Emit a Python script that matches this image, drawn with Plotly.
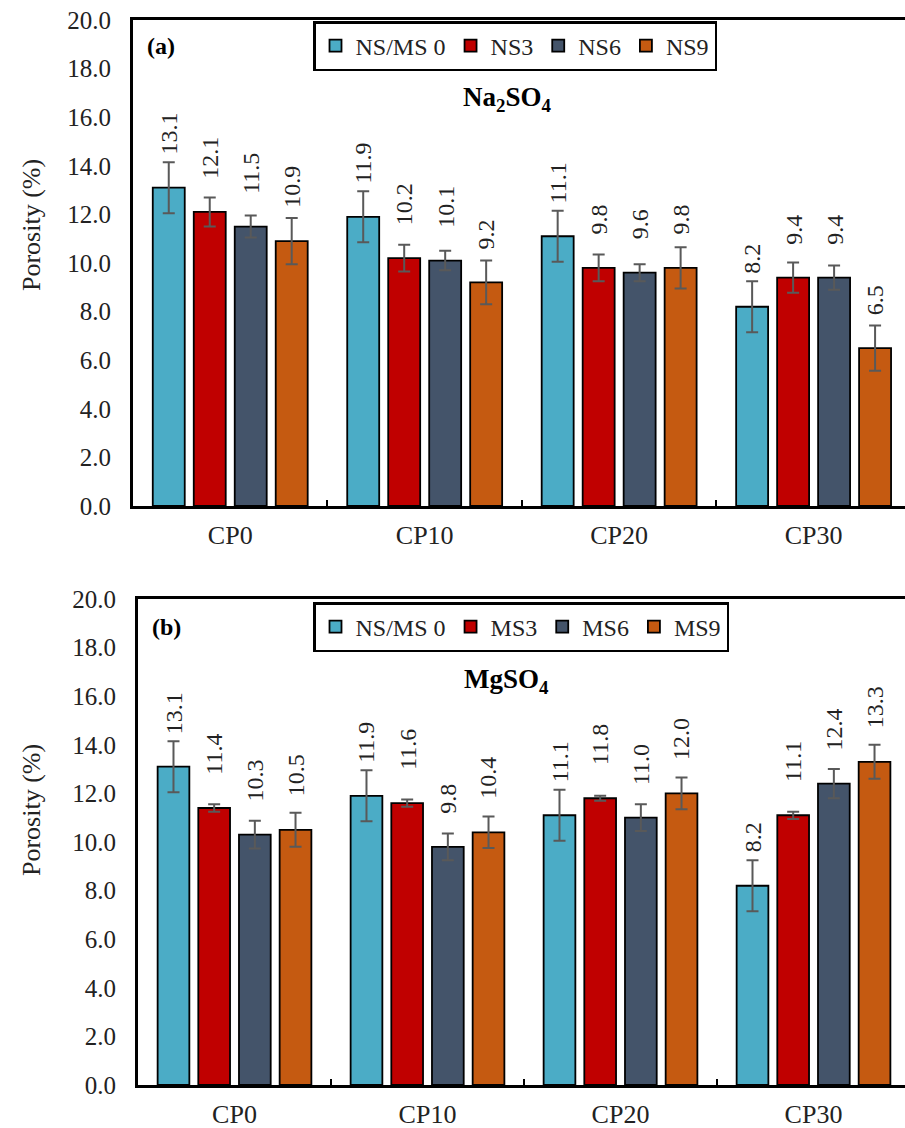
import plotly.graph_objects as go

categories = ["CP0", "CP10", "CP20", "CP30"]

# Panel (a) Na2SO4
series_a = ["NS/MS 0", "NS3", "NS6", "NS9"]
values_a = [
    [13.1, 11.9, 11.1, 8.2],
    [12.1, 10.2, 9.8, 9.4],
    [11.5, 10.1, 9.6, 9.4],
    [10.9, 9.2, 9.8, 6.5],
]
errors_a = [
    [1.05, 1.05, 1.05, 1.05],
    [0.6, 0.55, 0.55, 0.62],
    [0.45, 0.4, 0.35, 0.5],
    [0.95, 0.9, 0.85, 0.93],
]

# Panel (b) MgSO4
series_b = ["NS/MS 0", "MS3", "MS6", "MS9"]
values_b = [
    [13.1, 11.9, 11.1, 8.2],
    [11.4, 11.6, 11.8, 11.1],
    [10.3, 9.8, 11.0, 12.4],
    [10.5, 10.4, 12.0, 13.3],
]
errors_b = [
    [1.05, 1.05, 1.05, 1.05],
    [0.15, 0.15, 0.1, 0.15],
    [0.57, 0.55, 0.55, 0.6],
    [0.7, 0.65, 0.65, 0.7],
]

colors = ["#4BACC6", "#C00000", "#44546A", "#C55A11"]
FONT = "Liberation Serif"

W, H = 905, 1128
BARGAP = 0.157
BARGROUPGAP = 0.22
slot = (1 - BARGAP) / 4

fig = go.Figure()

panels = [
    dict(series=series_a, values=values_a, errors=errors_a, xa="x", ya="y", legend="legend"),
    dict(series=series_b, values=values_b, errors=errors_b, xa="x2", ya="y2", legend="legend2"),
]

annotations = []
for p in panels:
    for j, name in enumerate(p["series"]):
        fig.add_trace(go.Bar(
            x=categories, y=p["values"][j], name=name,
            xaxis=p["xa"], yaxis=p["ya"], legend=p["legend"],
            marker=dict(color=colors[j], line=dict(color="black", width=1.8)),
            error_y=dict(type="data", array=p["errors"][j], color="#595959",
                         thickness=2, width=6),
        ))
        for i, v in enumerate(p["values"][j]):
            annotations.append(dict(
                x=i + (j - 1.5) * slot, y=v, xref=p["xa"], yref=p["ya"],
                text=f"{v:.1f}", showarrow=False, textangle=-90,
                xanchor="center", yanchor="bottom", yshift=31,
                font=dict(family=FONT, size=24, color="#222"),
            ))

# panel labels and titles
annotations += [
    dict(x=145 / W, y=1 - 46 / H, xref="paper", yref="paper", text="<b>(a)</b>",
         showarrow=False, xanchor="left", yanchor="middle",
         font=dict(family=FONT, size=24, color="black")),
    dict(x=507 / W, y=1 - 99 / H, xref="paper", yref="paper", text="<b>Na<sub>2</sub>SO<sub>4</sub></b>",
         showarrow=False, xanchor="center", yanchor="middle",
         font=dict(family=FONT, size=27, color="black")),
    dict(x=150 / W, y=1 - 627 / H, xref="paper", yref="paper", text="<b>(b)</b>",
         showarrow=False, xanchor="left", yanchor="middle",
         font=dict(family=FONT, size=24, color="black")),
    dict(x=507 / W, y=1 - 681 / H, xref="paper", yref="paper", text="<b>MgSO<sub>4</sub></b>",
         showarrow=False, xanchor="center", yanchor="middle",
         font=dict(family=FONT, size=27, color="black")),
    dict(x=31 / W, y=1 - 225 / H, xref="paper", yref="paper", text="Porosity (%)",
         showarrow=False, textangle=-90, xanchor="center", yanchor="middle",
         font=dict(family=FONT, size=26, color="#222")),
    dict(x=31 / W, y=1 - 810 / H, xref="paper", yref="paper", text="Porosity (%)",
         showarrow=False, textangle=-90, xanchor="center", yanchor="middle",
         font=dict(family=FONT, size=26, color="#222")),
]

xcommon = dict(
    type="category", showline=True, linecolor="black", linewidth=3, mirror=True,
    ticks="inside", tickson="boundaries", ticklen=6, tickwidth=2, tickcolor="black",
    tickfont=dict(family=FONT, size=26, color="#222"), showgrid=False, zeroline=False,
    automargin=False, fixedrange=True, ticklabelstandoff=4,
)
ycommon = dict(
    range=[0, 20], dtick=2, tickformat=".1f", showline=True, linecolor="black",
    linewidth=3, ticks="", showgrid=False, zeroline=False,
    tickfont=dict(family=FONT, size=25, color="#222"), automargin=False,
    ticklabelstandoff=14,
)

legcommon = dict(
    orientation="h", xanchor="left", yanchor="top", bgcolor="white",
    bordercolor="black", borderwidth=2.5, font=dict(family=FONT, size=24, color="#222"),
    itemwidth=30, itemclick=False,
)

fig.update_layout(
    width=W, height=H, margin=dict(l=0, r=0, t=0, b=0),
    paper_bgcolor="white", plot_bgcolor="white",
    barmode="group", bargap=BARGAP, bargroupgap=BARGROUPGAP,
    showlegend=True,
    xaxis=dict(xcommon, domain=[133 / W, 1], range=[-0.5, 3.47], anchor="y"),
    yaxis=dict(ycommon, domain=[1 - 506 / H, 1 - 20 / H], anchor="x"),
    xaxis2=dict(xcommon, domain=[138 / W, 1], range=[-0.5, 3.474], anchor="y2"),
    yaxis2=dict(ycommon, domain=[1 - 1085 / H, 1 - 599 / H], anchor="x2"),
    legend=dict(legcommon, x=313 / W, y=1 - 21 / H),
    legend2=dict(legcommon, x=313 / W, y=1 - 602 / H),
    annotations=annotations,
)

fig.write_html("out.html")
